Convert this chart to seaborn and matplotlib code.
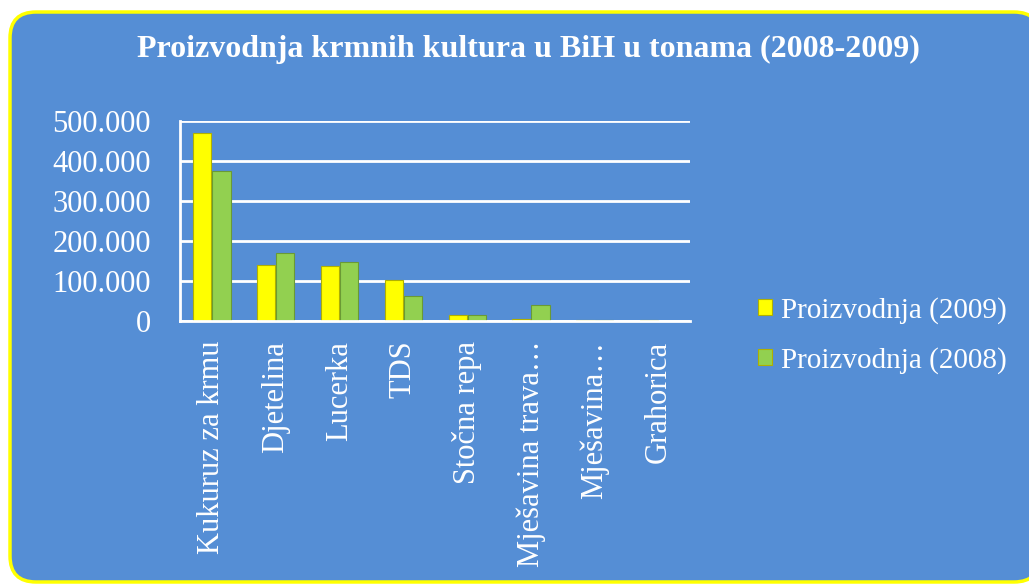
import matplotlib
matplotlib.use("Agg")
import matplotlib.pyplot as plt
import matplotlib.ticker as mticker
from matplotlib.patches import FancyBboxPatch
import pandas as pd
import seaborn as sns

categories = ["Kukuruz za krmu", "Djetelina", "Lucerka", "TDS", "Stočna repa",
              "Mješavina trava…", "Mješavina…", "Grahorica"]
prod_2009 = [470000, 140000, 137000, 103000, 15000, 5000, 3000, 2000]
prod_2008 = [375000, 170000, 147000, 62000, 15000, 40000, 2000, 1000]
series = ["Proizvodnja (2009)", "Proizvodnja (2008)"]

df = pd.DataFrame({
    "Kultura": categories * 2,
    "Tona": prod_2009 + prod_2008,
    "Serija": [series[0]] * len(categories) + [series[1]] * len(categories),
})

sns.set_style("white")
plt.rcParams["font.family"] = ["Liberation Serif", "DejaVu Serif"]

bg = "#558ED5"
fig = plt.figure(figsize=(10.29, 5.84), dpi=100)
fig.patch.set_facecolor("white")

# background panel in pixel coords
bgax = fig.add_axes([0, 0, 1, 1], zorder=-1)
bgax.set_xlim(0, 1029)
bgax.set_ylim(584, 0)
bgax.axis("off")
bgax.add_patch(FancyBboxPatch((10, 12), 1030, 570,
                              boxstyle="round,pad=0,rounding_size=26",
                              facecolor=bg, edgecolor="#FFFF00", linewidth=2.5))

ax = fig.add_axes([0.175, 0.45, 0.496, 0.343])
ax.set_facecolor("none")
sns.barplot(data=df, x="Kultura", y="Tona", hue="Serija",
            palette=["#FFFF00", "#92D050"], saturation=1, width=0.6, gap=0.05,
            edgecolor="#b0b000", linewidth=0.8, ax=ax, legend=True)

# darker edge for green bars
for bar in ax.containers[1]:
    bar.set_edgecolor("#6a9a35")

ax.set_ylim(0, 500000)
ax.yaxis.set_major_locator(mticker.MultipleLocator(100000))
ax.yaxis.set_major_formatter(mticker.FuncFormatter(
    lambda v, p: "0" if v == 0 else f"{int(v):,}".replace(",", ".")))
ax.grid(axis="y", color="white", linewidth=2)
ax.set_axisbelow(True)
for s in ["top", "right"]:
    ax.spines[s].set_visible(False)
ax.spines["left"].set_color("white")
ax.spines["bottom"].set_color("white")
ax.spines["left"].set_linewidth(2)
ax.spines["bottom"].set_linewidth(2)
ax.tick_params(axis="y", colors="white", labelsize=22, length=9, width=1.5, pad=12)
ax.tick_params(axis="x", colors="white", labelsize=22, length=0, rotation=90, pad=14)
ax.set_xlabel("")
ax.set_ylabel("")

leg = ax.legend(loc="center left", bbox_to_anchor=(1.08, -0.07), frameon=False,
                fontsize=21, labelcolor="white", handlelength=0.5,
                handleheight=0.5, handletextpad=0.3, labelspacing=0.8)

fig.text(0.514, 0.915, "Proizvodnja krmnih kultura u BiH u tonama (2008-2009)",
         ha="center", va="center", color="white", fontsize=23, fontweight="bold")

fig.savefig("out.png", dpi=100)
